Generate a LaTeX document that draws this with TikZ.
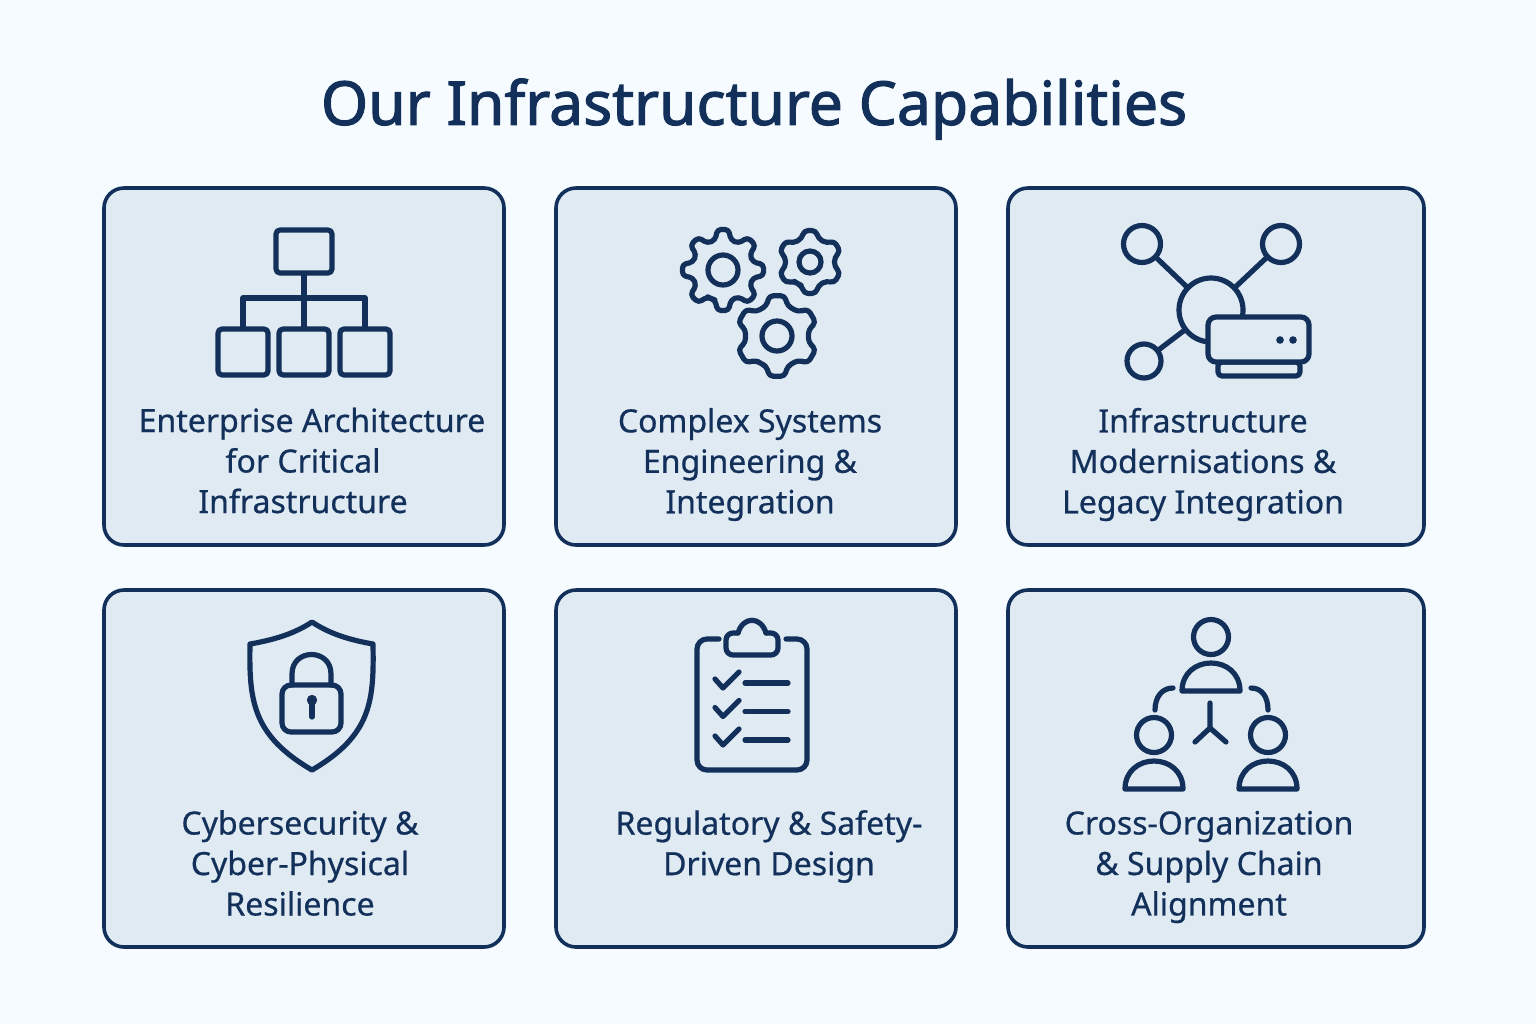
\documentclass[tikz,border=0pt]{standalone}
\usepackage{xcolor}
\usepackage{fontspec}
\setmainfont{Noto Sans}
\newfontfamily\capfont[FakeBold=0.6]{Noto Sans}
\newfontfamily\capheadfont[FakeBold=1.8]{Noto Sans}
\usetikzlibrary{positioning,arrows.meta,calc}
\definecolor{palNavy}{HTML}{12305A}
\definecolor{palCard}{HTML}{DFEAF3}
\definecolor{palPage}{HTML}{F5FBFE}
\tikzset{
  capcard/.style={draw=palNavy, fill=palCard, line width=1.8pt, rounded corners=10pt,
                  minimum height=178.5pt, inner sep=0pt},
  captext/.style={text=palNavy, font=\capfont\fontsize{16}{20.25}\selectfont, align=center,
                  inner sep=0pt},
  icon/.style={draw=palNavy, line width=2.6pt, line cap=round, line join=round},
  iconbox/.style={icon, rounded corners=2pt, inner sep=0pt},
  iconring/.style={icon, circle, inner sep=0pt},
  person/.pic={
    \draw[icon] (0,0) circle (17.5);
    \draw[icon] (-29,54) -- (29,54) .. controls (29,36) and (15,26) .. (0,26)
      .. controls (-15,26) and (-29,36) .. (-29,54) -- cycle;
  },
}
%% x y n outer root hole
\newcommand{\capgear}[6]{%
  \draw[icon, rounded corners=2pt] ($(#1,#2)+(90+0.5*360/#3:#5)$)
    foreach \k in {1,...,#3}{
      -- ($(#1,#2)+(90+\k*360/#3-0.32*360/#3:#5)$)
      -- ($(#1,#2)+(90+\k*360/#3-0.18*360/#3:#4)$)
      -- ($(#1,#2)+(90+\k*360/#3+0.18*360/#3:#4)$)
      -- ($(#1,#2)+(90+\k*360/#3+0.32*360/#3:#5)$)
    } -- cycle;
  \draw[icon] (#1,#2) circle (#6);
}
\begin{document}
\begin{tikzpicture}[x=0.5pt, y=-0.5pt]
\useasboundingbox[fill=palPage] (0,0) rectangle (1536,1024);
%% Title
\node[text=palNavy, font=\capheadfont\fontsize{30.3}{36}\selectfont, inner sep=0pt] (title) at (754,109)
  {Our Infrastructure Capabilities};
%% Cards
\node[capcard, minimum width=200pt] (card1) at (304,366.5) {};
\node[capcard, minimum width=200pt] (card2) at (756,366.5) {};
\node[capcard, minimum width=208pt] (card3) at (1216,366.5) {};
\node[capcard, minimum width=200pt] (card4) at (304,768.5) {};
\node[capcard, minimum width=200pt] (card5) at (756,768.5) {};
\node[capcard, minimum width=208pt] (card6) at (1216,768.5) {};
%% Labels
\node[captext] (text1) at (303,460.5) {\hspace*{9pt}Enterprise Architecture\\for Critical\\Infrastructure};
\node[captext] (text2) at (750,464.5) {Complex Systems\\Engineering \&\\Integration};
\node[captext] (text3) at (1203,464.5) {Infrastructure\\Modernisations \&\\Legacy Integration};
\node[captext] (text4) at (300,863) {Cybersecurity \&\\Cyber-Physical\\Resilience};
\node[captext] (text5) at (769,846.5) {Regulatory \& Safety-\\Driven Design};
\node[captext] (text6) at (1209,867) {Cross-Organization\\\& Supply Chain\\Alignment};
%% Org chart
\node[iconbox, minimum width=28pt, minimum height=21.5pt] (orgtop) at (304,251.5) {};
\node[iconbox, minimum width=25pt, minimum height=23pt] (orgleft) at (243,352) {};
\node[iconbox, minimum width=25pt, minimum height=23pt] (orgmid) at (304,352) {};
\node[iconbox, minimum width=25pt, minimum height=23pt] (orgright) at (365,352) {};
\coordinate (orgbus) at (304,298);
\draw[icon] (orgtop) -- (orgmid);
\draw[icon] (orgleft) |- (orgbus) -| (orgright);
%% Gears
\capgear{723}{270}{8}{41}{31}{15}
\capgear{810}{262}{6}{32}{25}{11}
\capgear{777}{336}{6}{41}{32}{15}
%% Network
\node[iconring, minimum size=18.5pt] (netnw) at (1142,244) {};
\node[iconring, minimum size=18.5pt] (netne) at (1281,244) {};
\node[iconring, minimum size=17pt] (netsw) at (1144,361) {};
\node[iconring, minimum size=32pt] (nethub) at (1211,310) {};
\draw[icon] (netnw) -- (nethub);
\draw[icon] (netne) -- (nethub);
\draw[icon] (netsw) -- (nethub);
\node[iconbox, fill=palCard, minimum width=41pt, minimum height=7pt] (routerbase) at (1259,369) {};
\node[iconbox, fill=palCard, rounded corners=4pt, minimum width=50.5pt, minimum height=22.5pt] (router) at (1258.5,339.5) {};
\fill[palNavy] (1280,340) circle (3.8) (1293,340) circle (3.8);
%% Shield
\draw[icon] (312,622) .. controls (330,634) and (350,640) .. (373,644)
  .. controls (374,700) and (372,735) .. (312,770)
  .. controls (252,735) and (249,700) .. (250,644)
  .. controls (273,640) and (294,634) .. (312,622) -- cycle;
\draw[icon, rounded corners=4.5pt] (282,685) rectangle (341,732);
\draw[icon] (292,685) -- (292,674) .. controls (292,648) and (331,648) .. (331,674) -- (331,685);
\fill[palNavy] (312,700) circle (5.2);
\draw[icon] (312,700) -- (312,717);
%% Clipboard
\draw[icon, rounded corners=5pt] (719,639) -- (697,639) -- (697,770) -- (807,770) -- (807,639) -- (786,639);
\draw[icon, rounded corners=3.5pt] (738,633) -- (726,633) -- (726,655) -- (778,655) -- (778,633) -- (766,633);
\draw[icon] (738,633) .. controls (743,616) and (761,616) .. (766,633);
\foreach \dy in {0,28.5,57}{
  \draw[icon] (715,679+\dy) -- (723,688+\dy) -- (739,672+\dy);
  \draw[icon] (745,683+\dy) -- (788,683+\dy);
}
%% People
\pic at (1211,637) {person};
\pic at (1154,735) {person};
\pic at (1268,735) {person};
\draw[icon] (1173,688) .. controls (1162,688) and (1155,697) .. (1155,710);
\draw[icon] (1251,688) .. controls (1262,688) and (1268,697) .. (1268,710);
\draw[icon] (1210,703) -- (1210,728) -- (1195,742);
\draw[icon] (1210,728) -- (1226,742);
\end{tikzpicture}
\end{document}
